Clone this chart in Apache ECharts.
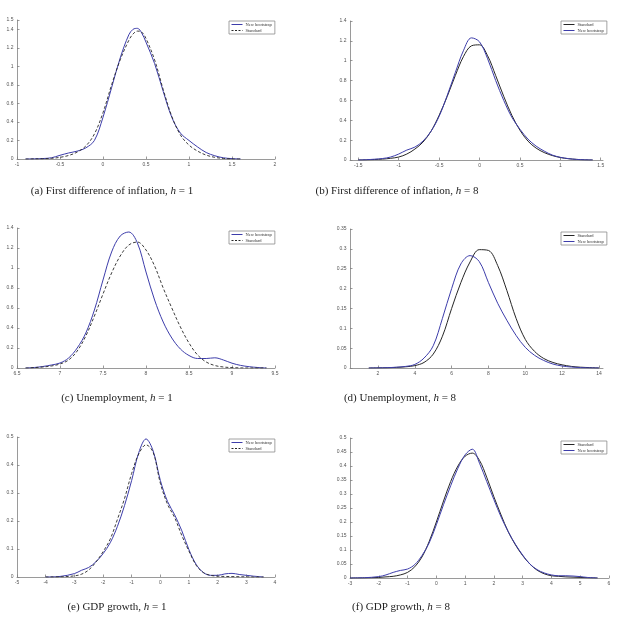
<!DOCTYPE html>
<html>
<head>
<meta charset="utf-8">
<script src="https://cdn.jsdelivr.net/npm/echarts@6/dist/echarts.min.js"></script>
<style>
html, body { margin: 0; padding: 0; background: #fff; }
#main { width: 618px; height: 619px; }
</style>
</head>
<body>
<div id="main"></div>
<script>
// ---- data ----
// (a) first difference of inflation, h = 1
const xA = [-0.9, -0.8, -0.7, -0.6, -0.5, -0.4, -0.3, -0.2, -0.1, 0, 0.1, 0.2, 0.3, 0.35, 0.4, 0.45, 0.5, 0.6, 0.7, 0.8, 0.9, 1.0, 1.1, 1.2, 1.3, 1.4, 1.5, 1.6];
const bootA = [0, 0.002, 0.005, 0.013, 0.04, 0.065, 0.085, 0.12, 0.2, 0.45, 0.77, 1.09, 1.34, 1.40, 1.41, 1.36, 1.26, 1.03, 0.73, 0.45, 0.28, 0.2, 0.13, 0.07, 0.035, 0.013, 0.004, 0];
const stdA = [0, 0.001, 0.003, 0.007, 0.018, 0.038, 0.075, 0.14, 0.27, 0.5, 0.8, 1.07, 1.28, 1.35, 1.38, 1.37, 1.3, 1.07, 0.75, 0.46, 0.26, 0.15, 0.085, 0.042, 0.018, 0.006, 0.001, 0];

// (b) first difference of inflation, h = 8
const xB = [-1.5, -1.4, -1.3, -1.2, -1.1, -1.0, -0.9, -0.8, -0.7, -0.6, -0.5, -0.4, -0.3, -0.2, -0.1, 0, 0.1, 0.2, 0.3, 0.4, 0.5, 0.6, 0.7, 0.8, 0.9, 1.0, 1.1, 1.2, 1.3, 1.4];
const stdB = [0, 0.002, 0.005, 0.009, 0.017, 0.03, 0.06, 0.11, 0.18, 0.29, 0.45, 0.64, 0.85, 1.04, 1.15, 1.16, 1.05, 0.85, 0.64, 0.45, 0.3, 0.19, 0.12, 0.075, 0.045, 0.025, 0.013, 0.006, 0.002, 0];
const bootB = [0, 0.003, 0.008, 0.015, 0.03, 0.06, 0.1, 0.13, 0.19, 0.29, 0.44, 0.65, 0.88, 1.1, 1.23, 1.19, 1.02, 0.8, 0.6, 0.43, 0.31, 0.21, 0.14, 0.09, 0.05, 0.027, 0.014, 0.006, 0.002, 0];

// (c) unemployment, h = 1
const xC = [6.6, 6.7, 6.8, 6.9, 7.0, 7.1, 7.2, 7.3, 7.4, 7.5, 7.6, 7.7, 7.8, 7.9, 8.0, 8.1, 8.2, 8.3, 8.4, 8.5, 8.6, 8.7, 8.8, 8.9, 9.0, 9.1, 9.2, 9.3, 9.4];
const bootC = [0, 0.005, 0.015, 0.03, 0.05, 0.1, 0.2, 0.35, 0.58, 0.88, 1.16, 1.32, 1.36, 1.25, 0.96, 0.68, 0.46, 0.3, 0.19, 0.125, 0.095, 0.095, 0.102, 0.08, 0.048, 0.026, 0.013, 0.005, 0];
const stdC = [0, 0.004, 0.01, 0.02, 0.04, 0.08, 0.17, 0.32, 0.52, 0.74, 0.95, 1.12, 1.23, 1.26, 1.18, 1.02, 0.8, 0.6, 0.41, 0.25, 0.13, 0.06, 0.025, 0.01, 0.004, 0.001, 0, 0, 0];

// (d) unemployment, h = 8
const xD = [1.5, 2, 2.5, 3, 3.5, 4, 4.5, 5, 5.5, 6, 6.5, 7, 7.5, 8, 8.5, 9, 9.5, 10, 10.5, 11, 11.5, 12, 12.5, 13, 13.5, 14];
const stdD = [0, 0.0003, 0.0007, 0.0015, 0.003, 0.006, 0.014, 0.035, 0.08, 0.15, 0.215, 0.267, 0.298, 0.296, 0.258, 0.195, 0.125, 0.072, 0.042, 0.024, 0.014, 0.008, 0.004, 0.002, 0.001, 0];
const bootD = [0, 0.0003, 0.0008, 0.002, 0.004, 0.009, 0.025, 0.056, 0.125, 0.2, 0.262, 0.283, 0.268, 0.215, 0.163, 0.12, 0.082, 0.052, 0.032, 0.019, 0.01, 0.005, 0.0025, 0.001, 0.0003, 0];

// (e) GDP growth, h = 1
const xE = [-4, -3.5, -3, -2.75, -2.5, -2.25, -2, -1.75, -1.5, -1.25, -1, -0.75, -0.5, -0.25, 0, 0.25, 0.5, 0.75, 1, 1.25, 1.5, 1.75, 2, 2.25, 2.5, 2.75, 3, 3.25, 3.6];
const bootE = [0, 0.002, 0.012, 0.024, 0.034, 0.054, 0.083, 0.122, 0.18, 0.255, 0.345, 0.445, 0.493, 0.45, 0.345, 0.27, 0.222, 0.165, 0.097, 0.045, 0.016, 0.006, 0.006, 0.011, 0.013, 0.009, 0.006, 0.003, 0];
const stdE = [0, 0.0005, 0.004, 0.01, 0.025, 0.053, 0.09, 0.135, 0.205, 0.28, 0.37, 0.44, 0.472, 0.445, 0.335, 0.26, 0.212, 0.148, 0.092, 0.042, 0.016, 0.006, 0.003, 0.002, 0.0015, 0.001, 0.0005, 0, 0];

// (f) GDP growth, h = 8
const xF = [-3, -2.5, -2, -1.75, -1.5, -1.25, -1, -0.75, -0.5, -0.25, 0, 0.25, 0.5, 0.75, 1, 1.25, 1.5, 1.75, 2, 2.25, 2.5, 2.75, 3, 3.25, 3.5, 3.75, 4, 4.25, 4.5, 4.75, 5, 5.25, 5.6];
const stdF = [0, 0.0005, 0.002, 0.004, 0.006, 0.011, 0.02, 0.04, 0.075, 0.13, 0.2, 0.275, 0.345, 0.4, 0.435, 0.446, 0.42, 0.36, 0.29, 0.225, 0.165, 0.118, 0.08, 0.05, 0.028, 0.015, 0.008, 0.006, 0.004, 0.003, 0.002, 0.001, 0];
const bootF = [0, 0.001, 0.005, 0.011, 0.02, 0.027, 0.032, 0.048, 0.08, 0.125, 0.19, 0.262, 0.33, 0.392, 0.44, 0.46, 0.41, 0.345, 0.28, 0.218, 0.165, 0.12, 0.082, 0.05, 0.03, 0.018, 0.011, 0.008, 0.008, 0.007, 0.005, 0.002, 0];

// tick labels
const xTicksA = [-1, -0.5, 0, 0.5, 1, 1.5, 2];
const yTicksA = [0, 0.2, 0.4, 0.6, 0.8, 1, 1.2, 1.4, 1.5];
const xTicksB = [-1.5, -1, -0.5, 0, 0.5, 1, 1.5];
const yTicksB = [0, 0.2, 0.4, 0.6, 0.8, 1, 1.2, 1.4];
const xTicksC = [6.5, 7, 7.5, 8, 8.5, 9, 9.5];
const yTicksC = [0, 0.2, 0.4, 0.6, 0.8, 1, 1.2, 1.4];
const xTicksD = [2, 4, 6, 8, 10, 12, 14];
const yTicksD = [0, 0.05, 0.1, 0.15, 0.2, 0.25, 0.3, 0.35];
const xTicksE = [-5, -4, -3, -2, -1, 0, 1, 2, 3, 4];
const yTicksE = [0, 0.1, 0.2, 0.3, 0.4, 0.5];
const xTicksF = [-3, -2, -1, 0, 1, 2, 3, 4, 5, 6];
const yTicksF = [0, 0.05, 0.1, 0.15, 0.2, 0.25, 0.3, 0.35, 0.4, 0.45, 0.5];

const captions = [
    ['(a) First difference of inflation, ', '1'],
    ['(b) First difference of inflation, ', '8'],
    ['(c) Unemployment, ', '1'],
    ['(d) Unemployment, ', '8'],
    ['(e) GDP growth, ', '1'],
    ['(f) GDP growth, ', '8']
];

const BLUE = '#3d3daa';
const BLACK = '#262626';
const BOOT = 'New bootstrap';
const STD = 'Standard';

// panel layout (pixels)
const panels = [
    { x: xA, boot: bootA, std: stdA, dashed: true,  xr: [-1, 2],         yMax: 1.5,  xt: xTicksA, yt: yTicksA, g: [17, 20, 258, 139],  leg: [229, 21],  cap: [112, 191] },
    { x: xB, boot: bootB, std: stdB, dashed: false, xr: [-1.603, 1.528], yMax: 1.4,  xt: xTicksB, yt: yTicksB, g: [350, 21, 253, 139], leg: [561, 21],  cap: [397, 191] },
    { x: xC, boot: bootC, std: stdC, dashed: true,  xr: [6.5, 9.5],      yMax: 1.4,  xt: xTicksC, yt: yTicksC, g: [17, 228, 258, 140], leg: [229, 231], cap: [117, 398] },
    { x: xD, boot: bootD, std: stdD, dashed: false, xr: [0.48, 14.22],   yMax: 0.35, xt: xTicksD, yt: yTicksD, g: [350, 229, 253, 139], leg: [561, 232], cap: [400, 398] },
    { x: xE, boot: bootE, std: stdE, dashed: true,  xr: [-5, 4],         yMax: 0.5,  xt: xTicksE, yt: yTicksE, g: [17, 437, 258, 140], leg: [229, 439], cap: [117, 607] },
    { x: xF, boot: bootF, std: stdF, dashed: false, xr: [-3, 6],         yMax: 0.5,  xt: xTicksF, yt: yTicksF, g: [350, 438, 259, 140], leg: [561, 441], cap: [401, 607] }
];

const axisLine = { show: true, onZero: false, lineStyle: { color: '#808080', width: 0.8 } };
const axisTick = { show: true, inside: true, length: 2.5, lineStyle: { color: '#808080', width: 0.8 } };
const axisLabel = { fontSize: 5, color: '#555', fontFamily: 'Liberation Sans', margin: 3.5 };

const grids = [], xAxes = [], yAxes = [], series = [], legends = [], graphics = [];

panels.forEach((p, i) => {
    grids.push({ left: p.g[0], top: p.g[1], width: p.g[2], height: p.g[3], containLabel: false });
    xAxes.push({
        type: 'value', gridIndex: i, min: p.xr[0], max: p.xr[1],
        axisLine: axisLine, splitLine: { show: false },
        axisTick: Object.assign({ customValues: p.xt }, axisTick),
        axisLabel: Object.assign({ customValues: p.xt }, axisLabel)
    });
    yAxes.push({
        type: 'value', gridIndex: i, min: 0, max: p.yMax,
        axisLine: axisLine, splitLine: { show: false },
        axisTick: Object.assign({ customValues: p.yt }, axisTick),
        axisLabel: Object.assign({ customValues: p.yt }, axisLabel)
    });

    const bootSeries = {
        name: BOOT, type: 'line', xAxisIndex: i, yAxisIndex: i,
        data: p.x.map((v, j) => [v, p.boot[j]]),
        smooth: 0.35, symbol: 'none', silent: true,
        lineStyle: { color: BLUE, width: 1 }
    };
    const stdSeries = {
        name: STD, type: 'line', xAxisIndex: i, yAxisIndex: i,
        data: p.x.map((v, j) => [v, p.std[j]]),
        smooth: 0.35, symbol: 'none', silent: true,
        lineStyle: { color: BLACK, width: p.dashed ? 0.9 : 1, type: p.dashed ? [3, 2] : 'solid' }
    };
    // legend entries: line sample only, no marker
    const noMarker = { opacity: 0, borderWidth: 0 };
    const bootLeg = { name: BOOT, itemStyle: noMarker, lineStyle: { color: BLUE, width: 1, type: 'solid' } };
    const stdLeg = { name: STD, itemStyle: noMarker, lineStyle: { color: BLACK, width: 1, type: p.dashed ? [2, 1.5] : 'solid' } };

    if (p.dashed) {
        series.push(bootSeries, stdSeries);
    } else {
        series.push(stdSeries, bootSeries);
    }

    legends.push({
        left: p.leg[0], top: p.leg[1], orient: 'vertical',
        itemWidth: 11, itemHeight: 5, itemGap: 1,
        padding: [1, 3, 1, 2],
        borderColor: '#8c8c8c', borderWidth: 0.8, backgroundColor: '#fff',
        selectedMode: false,
        textStyle: { fontSize: 4.5, color: '#333', fontFamily: 'Liberation Serif', padding: [0, 0, 0, -2] },
        data: p.dashed ? [bootLeg, stdLeg] : [stdLeg, bootLeg]
    });

    graphics.push({
        type: 'text', x: p.cap[0], y: p.cap[1],
        style: {
            text: captions[i][0] + '{i|h} = ' + captions[i][1],
            fontFamily: 'Liberation Serif', fontSize: 11, fill: '#222',
            align: 'center', verticalAlign: 'middle',
            rich: { i: { fontStyle: 'italic', fontFamily: 'Liberation Serif', fontSize: 11, fill: '#222' } }
        }
    });
});

const chart = echarts.init(document.getElementById('main'), null, { renderer: 'canvas' });
chart.setOption({
    animation: false,
    backgroundColor: '#fff',
    grid: grids,
    xAxis: xAxes,
    yAxis: yAxes,
    legend: legends,
    series: series,
    graphic: graphics
});
</script>
</body>
</html>
